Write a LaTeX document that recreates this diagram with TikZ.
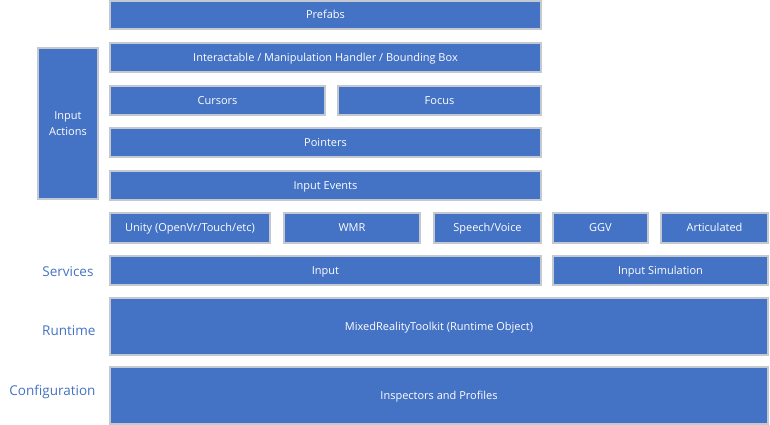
\documentclass[tikz,border=0pt]{standalone}
\usepackage{fontspec}
\setmainfont{Open Sans}
\usepackage{tikz}
\definecolor{blockblue}{HTML}{4472C4}
\definecolor{edgegray}{HTML}{C4C8D0}
\tikzset{layer/.style={rectangle,draw=edgegray,line width=1.2pt,fill=blockblue,text=white,inner sep=0pt,font=\fontsize{11}{16}\selectfont,align=center,text height=0.8em,text depth=0.05em},
         tag/.style={anchor=east,text=blockblue,font=\fontsize{13.5}{16}\selectfont}}

\begin{document}
\begin{tikzpicture}[x=1pt,y=-1pt]
                      \useasboundingbox (0,0) rectangle (770,425);
                      \node[layer,minimum width=431,minimum height=28](prefabs)at(325.5,15){Prefabs};
                      \node[layer,minimum width=431,minimum height=29](interact)at(325.5,57.5){Interactable / Manipulation Handler / Bounding Box};
                      \node[layer,minimum width=215,minimum height=29](cursors)at(217.5,100.5){Cursors};
                      \node[layer,minimum width=203,minimum height=29](focus)at(439.5,100.5){Focus};
                      \node[layer,minimum width=431,minimum height=29](pointers)at(325.5,142.5){Pointers};
                      \node[layer,minimum width=431,minimum height=29](events)at(325.5,185.5){Input Events};
                      \node[layer,text height={},text depth={},minimum width=60,minimum height=151](actions)at(68,123.5){Input\\Actions};
                      \node[layer,minimum width=160,minimum height=30](unity)at(190,228){Unity (OpenVr/Touch/etc)};
                      \node[layer,minimum width=136,minimum height=30](wmr)at(352,228){WMR};
                      \node[layer,minimum width=107,minimum height=30](speech)at(487.5,228){Speech/Voice};
                      \node[layer,minimum width=95,minimum height=30](ggv)at(600.5,228){GGV};
                      \node[layer,minimum width=107,minimum height=30](artic)at(714.5,228){Articulated};
                      \node[layer,minimum width=431,minimum height=29](input)at(325.5,270.5){Input};
                      \node[layer,minimum width=215,minimum height=29](insim)at(660.5,270.5){Input Simulation};
                      \node[layer,minimum width=658,minimum height=57](mrtk)at(439,326.5){MixedRealityToolkit (Runtime Object)};
                      \node[layer,minimum width=658,minimum height=57](insp)at(439,395.5){Inspectors and Profiles};
                      \node[tag](services)at(97,272){Services};
                      \node[tag](runtime)at(99,331){Runtime};
                      \node[tag](config)at(99,392){Configuration};
                  \end{tikzpicture}
\end{document}
